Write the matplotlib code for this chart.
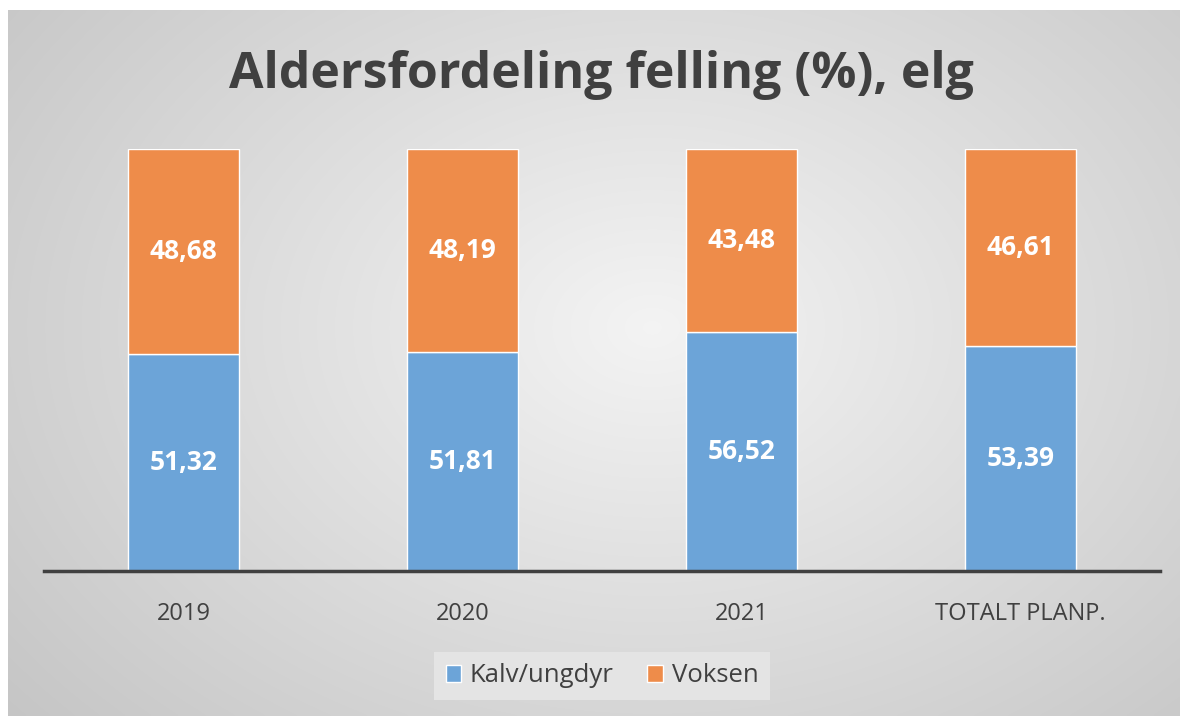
import matplotlib.pyplot as plt
import numpy as np

# data
categories = ['2019', '2020', '2021', 'TOTALT PLANP.']
kalv = [51.32, 51.81, 56.52, 53.39]
voksen = [48.68, 48.19, 43.48, 46.61]

W, H = 1182, 718
fig = plt.figure(figsize=(W / 100, H / 100), dpi=100)
fig.patch.set_facecolor('white')

# radial grey background
bg = fig.add_axes([8 / W, 2 / H, 1172 / W, 706 / H], zorder=0)
yy, xx = np.mgrid[0:1:300j, 0:1:500j]
r = np.sqrt(((xx - 0.55) / 0.75) ** 2 + ((yy - 0.45) / 0.9) ** 2)
shade = np.clip(0.955 - 0.19 * r, 0.77, 0.96)
bg.imshow(np.dstack([shade] * 3), aspect='auto', extent=[0, 1, 0, 1], interpolation='bicubic')
bg.set_axis_off()

ax = fig.add_axes([44 / W, (H - 571) / H, 1116 / W, 422 / H], zorder=1)
ax.patch.set_alpha(0)
x = np.arange(len(categories))
font = 'Open Sans'
b1 = ax.bar(x, kalv, width=0.4, color='#6ca4d8', edgecolor='white', linewidth=1, label='Kalv/ungdyr')
b2 = ax.bar(x, voksen, width=0.4, bottom=kalv, color='#ee8c4a', edgecolor='white', linewidth=1, label='Voksen')

for i in range(len(categories)):
    ax.text(x[i], kalv[i] / 2, f'{kalv[i]:.2f}'.replace('.', ','), ha='center', va='center',
            color='white', fontsize=19, fontweight='bold', family=font)
    ax.text(x[i], kalv[i] + voksen[i] / 2, f'{voksen[i]:.2f}'.replace('.', ','), ha='center', va='center',
            color='white', fontsize=19, fontweight='bold', family=font)

ax.set_xlim(-0.5, len(categories) - 0.5)
ax.set_ylim(0, 100)
ax.set_yticks([])
for s in ['top', 'right', 'left']:
    ax.spines[s].set_visible(False)
ax.spines['bottom'].set_color('#404040')
ax.spines['bottom'].set_linewidth(2.5)
ax.set_xticks(x)
ax.set_xticklabels(categories, fontsize=17, color='#404040', family=font)
ax.tick_params(axis='x', length=0, pad=22)

fig.text(601 / W, 1 - 75 / H, 'Aldersfordeling felling (%), elg', ha='center', va='center',
         fontsize=36, fontweight='bold', color='#404040', family=font)

leg = fig.legend(handles=[b1, b2], loc='center', bbox_to_anchor=(602 / W, 1 - 676 / H), ncol=2,
                 frameon=True, handlelength=0.6, handleheight=0.6, handletextpad=0.35,
                 columnspacing=1.3, borderpad=0.2, prop={'family': font, 'size': 18.5})
leg.get_frame().set_facecolor('#e4e4e4')
leg.get_frame().set_edgecolor('none')
leg.get_frame().set_alpha(1)
leg.get_frame().set_boxstyle('square', pad=0.25)
for t in leg.get_texts():
    t.set_color('#404040')

fig.savefig('out.png', dpi=100)
